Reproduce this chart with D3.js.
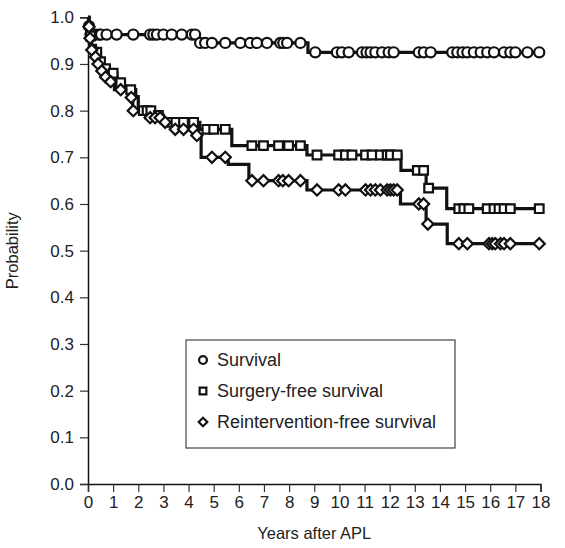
<!DOCTYPE html>
<html>
<head>
<meta charset="utf-8">
<script src="https://cdn.jsdelivr.net/npm/d3@7"></script>
<style>
  body { margin: 0; background: #fff; }
  svg text { font-family: "Liberation Sans", Arial, sans-serif; fill: #222; }
</style>
</head>
<body>
<div id="graph"></div>
<script>
// step curves: time of each drop and the level after it
const survivalTimes = [0, 0.02, 0.06, 4.33, 8.75];
const survivalLevels = [1.0, 0.981, 0.963, 0.945, 0.925];
const survivalCensored = [0.04, 0.1, 0.3, 0.44, 0.52, 0.74, 1.14, 1.8, 2.47, 2.6, 2.74, 3.0, 3.33, 3.73, 4.13, 4.26,
    4.46, 4.66, 4.93, 5.46, 6.06, 6.45, 6.72, 7.12, 7.65, 7.77, 7.92, 8.45,
    9.04, 9.9, 10.1, 10.37, 10.9, 11.08, 11.24, 11.43, 11.7, 11.96, 12.16, 13.16, 13.36, 13.63,
    14.49, 14.69, 14.9, 15.09, 15.35, 15.62, 15.88, 16.15, 16.55, 16.8, 17.0, 17.48, 17.95];

const surgeryTimes = [0, 0.05, 0.15, 0.3, 0.45, 0.6, 0.8, 1.15, 1.45, 1.9, 2.0, 2.6, 3.0, 4.45, 5.72, 8.71, 12.45, 13.45, 14.27];
const surgeryLevels = [1.0, 0.96, 0.94, 0.925, 0.905, 0.89, 0.88, 0.86, 0.845, 0.83, 0.80, 0.79, 0.775, 0.76, 0.725, 0.705, 0.672, 0.634, 0.59];
const surgeryCensored = [0.1, 0.35, 0.5, 0.7, 1.0, 1.3, 1.7, 2.2, 2.35, 2.5, 2.8, 3.2, 3.5, 3.8, 4.2,
    4.73, 5.0, 5.46, 6.52, 6.98, 7.58, 7.98, 8.45,
    9.11, 9.97, 10.24, 10.5, 11.04, 11.3, 11.63, 11.9, 12.03, 12.3, 13.1, 13.35, 13.55,
    14.75, 14.95, 15.15, 15.88, 16.15, 16.35, 16.55, 16.8, 17.95];

const reintTimes = [0, 0.03, 0.06, 0.12, 0.25, 0.35, 0.45, 0.6, 0.75, 1.05, 1.6, 1.78, 2.3, 2.9, 3.4, 4.25, 4.5, 5.58, 6.4, 8.71, 12.43, 13.45, 14.29];
const reintLevels = [1.0, 0.98, 0.955, 0.93, 0.915, 0.90, 0.885, 0.872, 0.862, 0.845, 0.828, 0.80, 0.785, 0.775, 0.76, 0.747, 0.70, 0.685, 0.65, 0.63, 0.60, 0.557, 0.515];
const reintCensored = [0.04, 0.08, 0.15, 0.3, 0.4, 0.55, 0.7, 0.9, 1.3, 1.72, 1.8, 2.47, 2.67, 2.87, 3.07,
    3.47, 3.8, 4.2, 4.33, 4.93, 5.46, 6.52, 6.98, 7.58, 7.75, 7.98, 8.45,
    9.11, 9.97, 10.24, 11.04, 11.24, 11.43, 11.63, 11.9, 12.03, 12.16, 12.3, 13.16, 13.35, 13.52,
    14.75, 15.09, 15.95, 16.08, 16.2, 16.41, 16.55, 16.8, 17.95];

const endTime = 17.95;
const xTicks = d3.range(0, 19);
const yTicks = d3.range(0, 11).map(d => d / 10);
const legendLabels = ["Survival", "Surgery-free survival", "Reintervention-free survival"];

const margin = { top: 17.3, right: 24.5, bottom: 64, left: 88 };
const width = 565 - margin.left - margin.right;
const height = 548 - margin.top - margin.bottom;

const svg = d3.select("#graph")
    .append("svg")
    .attr("width", 565)
    .attr("height", 548)
    .append("g")
    .attr("transform", `translate(${margin.left}, ${margin.top})`);

const x = d3.scaleLinear().domain([0, 18]).range([0, width]);
const y = d3.scaleLinear().domain([0, 1]).range([height, 0]);

// axes
const xAxis = svg.append("g")
    .attr("transform", `translate(0, ${height})`)
    .call(d3.axisBottom(x).tickValues(xTicks).tickFormat(d3.format("d")).tickSize(8).tickPadding(4));
const yAxis = svg.append("g")
    .call(d3.axisLeft(y).tickValues(yTicks).tickFormat(d3.format(".1f")).tickSize(8).tickPadding(6));
[xAxis, yAxis].forEach(a => {
    a.select(".domain").attr("stroke", "#111").attr("stroke-width", 1.5);
    a.selectAll(".tick line").attr("stroke", "#333").attr("stroke-width", 1.2);
    a.selectAll(".tick text").style("font-size", "17px").attr("fill", "#222");
});

svg.append("text")
    .attr("x", width / 2)
    .attr("y", height + 55)
    .attr("text-anchor", "middle")
    .style("font-size", "16.5px")
    .text("Years after APL");

svg.append("text")
    .attr("transform", `translate(${-70}, ${height / 2}) rotate(-90)`)
    .attr("text-anchor", "middle")
    .style("font-size", "16.5px")
    .text("Probability");

function levelAt(times, levels, t) {
    const i = d3.bisectRight(times, t) - 1;
    return levels[Math.max(i, 0)];
}

const line = d3.line()
    .x(d => x(d[0]))
    .y(d => y(d[1]))
    .curve(d3.curveStepAfter);

const series = [
    { times: survivalTimes, levels: survivalLevels, censored: survivalCensored, shape: "circle" },
    { times: surgeryTimes, levels: surgeryLevels, censored: surgeryCensored, shape: "square" },
    { times: reintTimes, levels: reintLevels, censored: reintCensored, shape: "diamond" }
];

const markerSize = { circle: 80, square: 75, diamond: 62 };

function drawMarker(g, shape, cx, cy, scale) {
    const type = shape === "circle" ? d3.symbolCircle : d3.symbolSquare;
    g.append("path")
        .attr("d", d3.symbol().type(type).size(markerSize[shape] * scale)())
        .attr("transform", `translate(${cx}, ${cy})` + (shape === "diamond" ? " rotate(45)" : ""))
        .attr("fill", "#fff")
        .attr("stroke", "#111")
        .attr("stroke-width", 2.2);
}

series.forEach(s => {
    const pts = s.times.map((t, i) => [t, s.levels[i]]);
    pts.push([endTime, s.levels[s.levels.length - 1]]);
    svg.append("path")
        .datum(pts)
        .attr("fill", "none")
        .attr("stroke", "#111")
        .attr("stroke-width", 3.2)
        .attr("d", line);
});

series.forEach(s => {
    const g = svg.append("g");
    s.censored.forEach(t => drawMarker(g, s.shape, x(t), y(levelAt(s.times, s.levels, t)), 1));
});

// legend
const legend = svg.append("g").attr("transform", `translate(${186 - margin.left}, ${340 - margin.top})`);
legend.append("rect")
    .attr("width", 269)
    .attr("height", 108)
    .attr("fill", "#fff")
    .attr("stroke", "#444")
    .attr("stroke-width", 1.2);
legendLabels.forEach((label, i) => {
    const ly = 20 + i * 31;
    drawMarker(legend, series[i].shape, 17, ly, 0.6);
    legend.append("text")
        .attr("x", 31)
        .attr("y", ly)
        .attr("dy", "0.35em")
        .style("font-size", "18px")
        .text(label);
});
</script>
</body>
</html>
